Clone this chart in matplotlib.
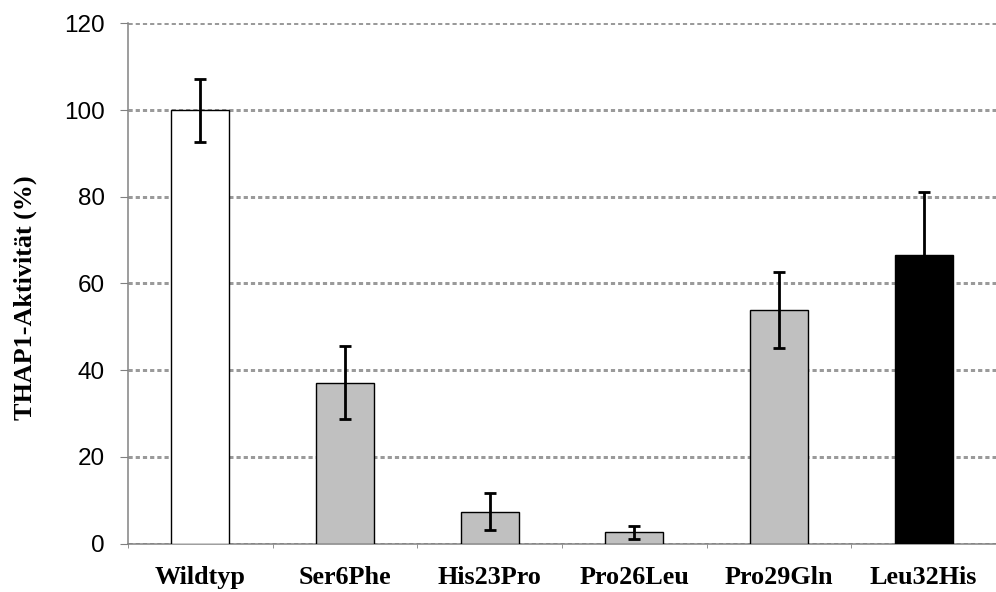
import matplotlib
matplotlib.use("Agg")
import matplotlib.pyplot as plt
import numpy as np

categories = ["Wildtyp", "Ser6Phe", "His23Pro", "Pro26Leu", "Pro29Gln", "Leu32His"]
values = [100.0, 37.1, 7.3, 2.6, 53.9, 66.5]
err_low = [7.3, 8.4, 4.3, 1.5, 8.8, 14.6]
err_high = [7.1, 8.4, 4.4, 1.4, 8.7, 14.6]
bar_colors = ["#ffffff", "#c0c0c0", "#c0c0c0", "#c0c0c0", "#c0c0c0", "#000000"]
yticks = [0, 20, 40, 60, 80, 100, 120]

W, H = 996, 592
fig = plt.figure(figsize=(W / 100, H / 100), dpi=100)
left, right = 128 / W, 1.0
bottom, top = 1 - 543.5 / H, 1 - 23.3 / H
ax = fig.add_axes([left, bottom, right - left, top - bottom])

x = np.arange(len(categories))
px2pt = 72 / 100

ax.bar(x, values, width=0.4, color=bar_colors, edgecolor="black",
       linewidth=1.4 * px2pt, zorder=3)
ax.errorbar(x, values, yerr=[err_low, err_high], fmt="none", ecolor="black",
            elinewidth=2.8 * px2pt, capsize=6 * px2pt, capthick=2.8 * px2pt, zorder=4)

slot = 145.4
ax.set_xlim(-0.5, -0.5 + (W - 128) / slot)
ax.set_ylim(0, 120)
ax.set_yticks(yticks)
ax.set_yticklabels([str(v) for v in yticks], fontfamily="Liberation Sans", fontsize=17.5)
ax.yaxis.grid(True, color="#9a9a9a", linestyle=(0, (1.4, 1.0)), linewidth=3.0 * px2pt, zorder=1)
ax.set_axisbelow(True)

ax.set_xticks(x)
ax.set_xticklabels(categories, fontfamily="Liberation Serif", fontweight="bold", fontsize=18.8)
ax.set_xticks(np.arange(-0.5, len(categories) + 0.5, 1.0), minor=True)
ax.tick_params(axis="x", which="major", length=0, pad=16)
ax.tick_params(axis="x", which="minor", length=4 * px2pt, color="#808080", direction="out")
ax.tick_params(axis="y", length=8 * px2pt, color="#808080", pad=11, direction="out",
               labelcolor="black")

for s in ["top", "right"]:
    ax.spines[s].set_visible(False)
for s in ["left", "bottom"]:
    ax.spines[s].set_color("#808080")
    ax.spines[s].set_linewidth(1.5 * px2pt)

fig.text(25 / W, 1 - 298 / H, "THAP1-Aktivität (%)", rotation=90, ha="center", va="center",
         fontfamily="Liberation Serif", fontweight="bold", fontsize=18.8)

fig.savefig("out.png", dpi=100)
